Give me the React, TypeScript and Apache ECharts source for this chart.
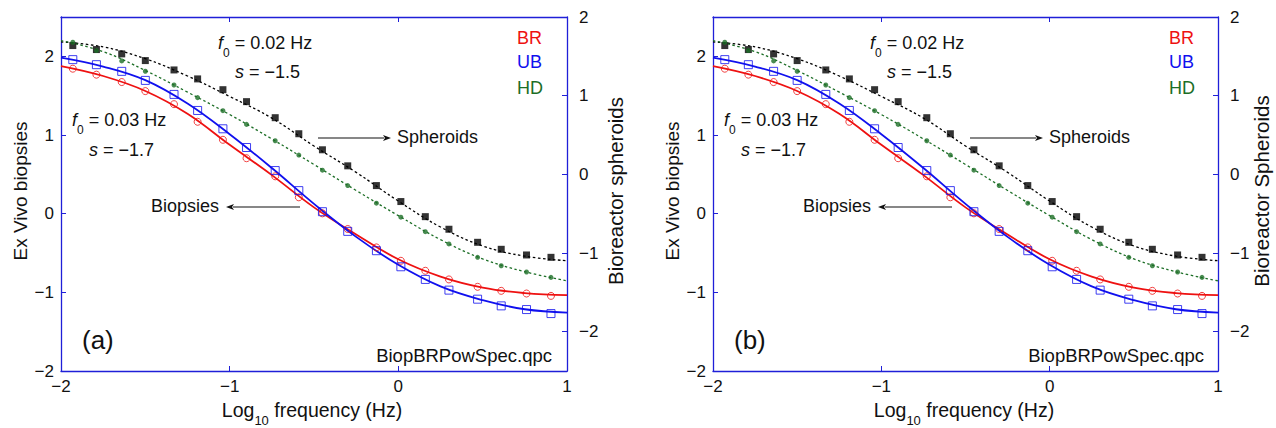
import React, { useEffect, useRef } from "react";
import * as echarts from "echarts";

// Log10 frequency of each measured point
const logFreq = [-1.93, -1.79, -1.64, -1.5, -1.33, -1.19, -1.04, -0.9, -0.73, -0.59, -0.45, -0.3, -0.13, 0.015, 0.16, 0.3, 0.47, 0.61, 0.76, 0.905];
// Ex vivo biopsies (left axis)
const brVals = [1.843, 1.767, 1.673, 1.558, 1.392, 1.168, 0.939, 0.705, 0.475, 0.208, 0.004, -0.195, -0.429, -0.599, -0.726, -0.836, -0.93, -0.981, -1.015, -1.045];
const ubVals = [1.958, 1.894, 1.809, 1.694, 1.516, 1.312, 1.079, 0.841, 0.548, 0.293, 0.025, -0.225, -0.471, -0.675, -0.836, -0.972, -1.087, -1.172, -1.219, -1.27];
// Bioreactor spheroids (right axis)
const sphVals = [1.637, 1.586, 1.531, 1.446, 1.327, 1.213, 1.076, 0.924, 0.72, 0.516, 0.312, 0.108, -0.143, -0.346, -0.538, -0.698, -0.864, -0.953, -1.025, -1.055];
const hdVals = [1.679, 1.573, 1.442, 1.31, 1.136, 0.975, 0.809, 0.635, 0.427, 0.245, 0.053, -0.143, -0.367, -0.545, -0.729, -0.885, -1.055, -1.162, -1.242, -1.31];
// Fitted curves, read at these log frequencies
const fitX = [-2, -1.75, -1.5, -1.25, -1, -0.75, -0.5, -0.25, 0, 0.25, 0.5, 0.75, 1];
const brFit = [1.876, 1.75, 1.56, 1.27, 0.875, 0.49, 0.08, -0.265, -0.58, -0.8, -0.94, -1.01, -1.036];
const ubFit = [1.983, 1.87, 1.697, 1.4, 1.01, 0.58, 0.125, -0.295, -0.65, -0.925, -1.1, -1.215, -1.257];
const sphFit = [1.684, 1.62, 1.47, 1.25, 0.99, 0.715, 0.36, 0.025, -0.34, -0.67, -0.91, -1.04, -1.098];
const hdFit = [1.7, 1.56, 1.32, 1.045, 0.76, 0.45, 0.125, -0.205, -0.525, -0.83, -1.075, -1.238, -1.353];

const xTicks = [-2, -1, 0, 1];
const yTicks = [-2, -1, 0, 1, 2];

const FONT = "Liberation Sans";
const AXIS = "#1f1fd8";
const RED = "#ee1111";
const BLUE = "#1010ee";
const GREEN = "#1c6e26";
const BLACK = "#000000";

const fmt = (v: number) => String(v).replace("-", "\u2212");

function pairs(xs: number[], ys: number[]) {
  return xs.map((x, i) => [x, ys[i]]);
}

const panels = [
  { left: 61, width: 506, tag: "(a)", rightName: "Bioreactor spheroids", rightNameX: 615 },
  { left: 713, width: 505, tag: "(b)", rightName: "Bioreactor Spheroids", rightNameX: 1261 },
];

function textEl(x: number, y: number, text: string, extra: any = {}, style: any = {}) {
  return {
    type: "text",
    x,
    y,
    ...extra,
    style: {
      text,
      fontFamily: FONT,
      fontSize: 18,
      fill: "#111",
      verticalAlign: "middle",
      align: "left",
      ...style,
    },
  };
}

function subText(x: number, y: number, main: string, sub: string, rest: string, italic: boolean, fontSize = 18, subSize = 12, align = "left") {
  return {
    type: "text",
    x,
    y,
    style: {
      text: `{m|${main}}{s|${sub}}{r|${rest}}`,
      align,
      verticalAlign: "middle",
      rich: {
        m: { fontFamily: FONT, fontSize, fontStyle: italic ? "italic" : "normal", fill: "#111", verticalAlign: "middle" },
        s: { fontFamily: FONT, fontSize: subSize, fill: "#111", padding: [20, 0, 0, 0], verticalAlign: "middle" },
        r: { fontFamily: FONT, fontSize, fill: "#111", verticalAlign: "middle" },
      },
    },
  };
}

function arrow(x1: number, x2: number, y: number) {
  const dir = x2 > x1 ? 1 : -1;
  const headLen = 8;
  return [
    { type: "line", shape: { x1, y1: y, x2: x2 - dir * headLen + dir * 1, y2: y }, style: { stroke: "#111", lineWidth: 1.2 } },
    {
      type: "polygon",
      shape: { points: [[x2, y], [x2 - dir * headLen, y - 3], [x2 - dir * headLen + dir * 2, y], [x2 - dir * headLen, y + 3]] },
      style: { fill: "#111" },
    },
  ];
}

export default function App() {
  const ref = useRef<HTMLDivElement>(null);
  useEffect(() => {
    if (!ref.current) return;
    const chart = echarts.init(ref.current, null, { renderer: "svg" });

    const grid: any[] = [];
    const xAxis: any[] = [];
    const yAxis: any[] = [];
    const series: any[] = [];
    const graphic: any[] = [];

    panels.forEach((p, k) => {
      grid.push({ left: p.left, top: 17, width: p.width, height: 354, containLabel: false });
      const axisLine = { show: true, onZero: false, lineStyle: { color: AXIS, width: 1.3 } };
      const tick = (vals: number[]) => ({ show: true, inside: true, length: 5, lineStyle: { color: AXIS, width: 1 }, customValues: vals });
      xAxis.push({
        type: "value", gridIndex: k, position: "bottom", min: -2, max: 1, interval: 1,
        axisLine, axisTick: tick(xTicks), splitLine: { show: false },
        axisLabel: { customValues: xTicks, formatter: fmt, color: "#111", fontFamily: FONT, fontSize: 17, margin: 7 },
      });
      xAxis.push({
        type: "value", gridIndex: k, position: "top", min: -2, max: 1, interval: 1,
        axisLine, axisTick: tick(xTicks), splitLine: { show: false }, axisLabel: { show: false },
      });
      yAxis.push({
        type: "value", gridIndex: k, position: "left", min: -2, max: 2.5,
        axisLine, axisTick: tick(yTicks), splitLine: { show: false },
        axisLabel: { customValues: yTicks, formatter: fmt, color: "#111", fontFamily: FONT, fontSize: 17, margin: 7 },
      });
      yAxis.push({
        type: "value", gridIndex: k, position: "right", min: -2.5, max: 2,
        axisLine, axisTick: tick(yTicks), splitLine: { show: false },
        axisLabel: { customValues: yTicks, formatter: fmt, color: "#111", fontFamily: FONT, fontSize: 17, margin: 12 },
      });
      const xi = k * 2;
      const yl = k * 2;
      const yr = k * 2 + 1;
      // fits
      series.push({ type: "line", xAxisIndex: xi, yAxisIndex: yr, data: pairs(fitX, sphFit), smooth: 0.4, showSymbol: false, lineStyle: { color: BLACK, width: 1.3, type: [2.5, 2.5] }, z: 2 });
      series.push({ type: "line", xAxisIndex: xi, yAxisIndex: yr, data: pairs(fitX, hdFit), smooth: 0.4, showSymbol: false, lineStyle: { color: GREEN, width: 1.3, type: [2.5, 2.5] }, z: 2 });
      series.push({ type: "line", xAxisIndex: xi, yAxisIndex: yl, data: pairs(fitX, brFit), smooth: 0.4, showSymbol: false, lineStyle: { color: RED, width: 1.8 }, z: 2 });
      series.push({ type: "line", xAxisIndex: xi, yAxisIndex: yl, data: pairs(fitX, ubFit), smooth: 0.4, showSymbol: false, lineStyle: { color: BLUE, width: 1.8 }, z: 2 });
      // markers
      series.push({ type: "scatter", xAxisIndex: xi, yAxisIndex: yr, data: pairs(logFreq, sphVals), symbol: "rect", symbolSize: 7, itemStyle: { color: BLACK }, z: 3 });
      series.push({ type: "scatter", xAxisIndex: xi, yAxisIndex: yr, data: pairs(logFreq, hdVals), symbol: "circle", symbolSize: 5, itemStyle: { color: GREEN }, z: 3 });
      series.push({ type: "scatter", xAxisIndex: xi, yAxisIndex: yl, data: pairs(logFreq, brVals), symbol: "circle", symbolSize: 7, itemStyle: { color: "rgba(0,0,0,0)", borderColor: RED, borderWidth: 1 }, z: 3 });
      series.push({ type: "scatter", xAxisIndex: xi, yAxisIndex: yl, data: pairs(logFreq, ubVals), symbol: "rect", symbolSize: 8, itemStyle: { color: "rgba(0,0,0,0)", borderColor: BLUE, borderWidth: 1 }, z: 3 });

      const dx = p.left - 61;
      graphic.push(subText(218 + dx, 43, "f", "0", " = 0.02 Hz", true));
      graphic.push({
        type: "text", x: 235 + dx, y: 72,
        style: { text: "{m|s}{r| = \u22121.5}", verticalAlign: "middle", rich: { m: { fontFamily: FONT, fontSize: 18, fontStyle: "italic", fill: "#111" }, r: { fontFamily: FONT, fontSize: 18, fill: "#111" } } },
      });
      graphic.push(subText(72 + dx, 120, "f", "0", " = 0.03 Hz", true));
      graphic.push({
        type: "text", x: 89 + dx, y: 150,
        style: { text: "{m|s}{r| = \u22121.7}", verticalAlign: "middle", rich: { m: { fontFamily: FONT, fontSize: 18, fontStyle: "italic", fill: "#111" }, r: { fontFamily: FONT, fontSize: 18, fill: "#111" } } },
      });
      graphic.push(textEl(151 + dx, 206, "Biopsies"));
      graphic.push(...arrow(300 + dx, 226 + dx, 207));
      graphic.push(textEl(397 + dx, 137, "Spheroids"));
      graphic.push(...arrow(318 + dx, 391 + dx, 138));
      graphic.push(textEl(517 + dx, 38, "BR", {}, { fill: RED }));
      graphic.push(textEl(517 + dx, 62, "UB", {}, { fill: BLUE }));
      graphic.push(textEl(517 + dx, 88, "HD", {}, { fill: GREEN }));
      graphic.push(textEl(82 + dx, 340, p.tag, {}, { fontSize: 26 }));
      graphic.push(textEl(552 + dx, 355, "BiopBRPowSpec.qpc", {}, { align: "right", fontSize: 18.5 }));
      graphic.push(textEl(20 + dx, 191, "Ex Vivo biopsies", { rotation: Math.PI / 2 }, { align: "center", fontSize: 19 }));
      graphic.push(textEl(p.rightNameX, 191, p.rightName, { rotation: Math.PI / 2 }, { align: "center", fontSize: 20.5 }));
      graphic.push(subText(312 + dx, 410, "Log", "10", " frequency (Hz)", false, 19.5, 13, "center"));
    });

    chart.setOption({
      animation: false,
      textStyle: { fontFamily: FONT },
      grid,
      xAxis,
      yAxis,
      series,
      graphic,
    });
    return () => chart.dispose();
  }, []);
  return <div ref={ref} style={{ position: "fixed", left: 0, top: 0, width: 1276, height: 428, background: "#fff" }} />;
}
